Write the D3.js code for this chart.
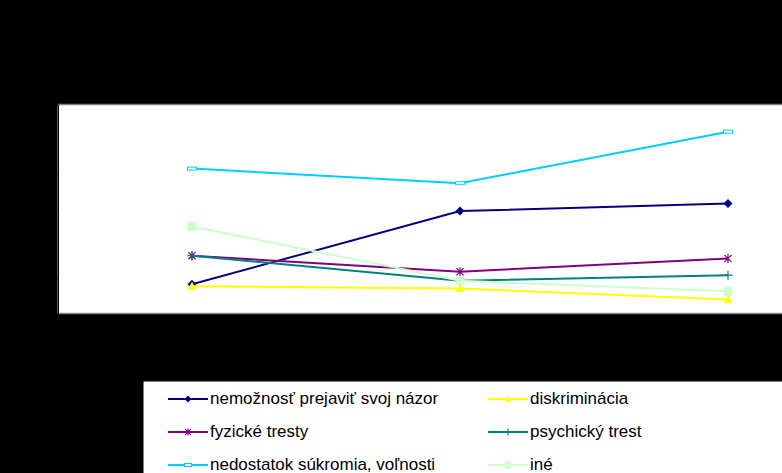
<!DOCTYPE html>
<meta charset="utf-8">
<style>
  body { margin: 0; background: #000; }
  svg { display: block; }
  .legend text { font-family: "Liberation Sans", Arial, sans-serif; font-size: 17px; fill: #000; }
  .axis text { font-family: "Liberation Sans", Arial, sans-serif; font-size: 12px; fill: #000; }
</style>
<body>
<div id="chart"></div>
<script src="https://d3js.org/d3.v7.min.js"></script>
<script>
  // data (y axis 0..30, step 5)
  const categories = ["1", "2", "3"];
  const seriesNames = [
    "nemožnosť prejaviť svoj názor",
    "diskriminácia",
    "fyzické tresty",
    "psychický trest",
    "nedostatok súkromia, voľnosti",
    "iné"
  ];
  const nemoznost = [4.2, 14.7, 15.8];
  const diskriminacia = [3.9, 3.6, 2.0];
  const fyzicke = [8.3, 6.0, 7.9];
  const psychicky = [8.3, 4.7, 5.5];
  const nedostatok = [20.8, 18.7, 26.1];
  const ine = [12.5, 4.7, 3.2];
  const yTicks = [0, 5, 10, 15, 20, 25, 30];

  const seriesValues = [nemoznost, diskriminacia, fyzicke, psychicky, nedostatok, ine];
  const colors = ["#000080", "#ffff00", "#800080", "#008080", "#00ccff", "#ccffcc"];
  const markers = ["diamond", "triangle", "asterisk", "plus", "dash", "square"];

  const width = 782, height = 473;
  const plot = {left: 58, top: 104.5, right: 862, bottom: 313.5};

  const svg = d3.select("#chart").append("svg")
    .attr("width", width)
    .attr("height", height);

  const x = d3.scalePoint()
    .domain(categories)
    .range([plot.left, plot.right])
    .padding(0.5);

  const y = d3.scaleLinear()
    .domain([0, 30])
    .range([plot.bottom, plot.top]);

  // plot area
  svg.append("rect")
    .attr("x", plot.left)
    .attr("y", plot.top)
    .attr("width", plot.right - plot.left)
    .attr("height", plot.bottom - plot.top)
    .attr("fill", "#fff")
    .attr("stroke", "#808080")
    .attr("stroke-width", 1.5);

  // y axis (labels are black on black, like the original)
  const yAxis = svg.append("g")
    .attr("class", "axis")
    .attr("transform", `translate(${plot.left},0)`)
    .call(d3.axisLeft(y).tickValues(yTicks).tickSize(4).tickPadding(4));
  yAxis.select(".domain").attr("stroke", "#000");
  yAxis.selectAll(".tick line").attr("stroke", "#000");

  const xAxis = svg.append("g")
    .attr("class", "axis")
    .attr("transform", `translate(0,${plot.bottom})`)
    .call(d3.axisBottom(x).tickSize(0).tickPadding(8));
  xAxis.select(".domain").remove();

  function drawMarker(g, type, color, cx, cy, s) {
    if (type === "diamond") {
      g.append("path")
        .attr("d", `M${cx},${cy - s}L${cx + s},${cy}L${cx},${cy + s}L${cx - s},${cy}Z`)
        .attr("fill", color);
    } else if (type === "triangle") {
      g.append("path")
        .attr("d", `M${cx},${cy - s}L${cx + s},${cy + s * 0.8}L${cx - s},${cy + s * 0.8}Z`)
        .attr("fill", color);
    } else if (type === "square") {
      g.append("rect")
        .attr("x", cx - s).attr("y", cy - s)
        .attr("width", 2 * s).attr("height", 2 * s)
        .attr("fill", color);
    } else if (type === "plus") {
      g.append("path")
        .attr("d", `M${cx - s},${cy}H${cx + s}M${cx},${cy - s}V${cy + s}`)
        .attr("stroke", color).attr("stroke-width", 1.2);
    } else if (type === "asterisk") {
      const d = s * 0.8;
      g.append("path")
        .attr("d", `M${cx - d},${cy - d}L${cx + d},${cy + d}M${cx - d},${cy + d}L${cx + d},${cy - d}M${cx},${cy - s}V${cy + s}`)
        .attr("stroke", color).attr("stroke-width", 1.2);
    } else if (type === "dash") {
      g.append("rect")
        .attr("x", cx - s).attr("y", cy - 1.5)
        .attr("width", 2 * s).attr("height", 3)
        .attr("fill", "#fff")
        .attr("stroke", color).attr("stroke-width", 1);
    }
  }

  const line = d3.line()
    .x((d, i) => x(categories[i]))
    .y(d => y(d));

  seriesValues.forEach((vals, k) => {
    const g = svg.append("g");
    g.append("path")
      .datum(vals)
      .attr("d", line)
      .attr("fill", "none")
      .attr("stroke", colors[k])
      .attr("stroke-width", 2);
    vals.forEach((v, i) => drawMarker(g, markers[k], colors[k], x(categories[i]), y(v), 4.5));
  });

  // legend
  const legend = svg.append("g").attr("class", "legend");
  legend.append("rect")
    .attr("x", 143).attr("y", 381)
    .attr("width", 700).attr("height", 120)
    .attr("fill", "#fff")
    .attr("stroke", "#000");

  seriesNames.forEach((name, k) => {
    const col = k % 2, row = Math.floor(k / 2);
    const lx = 168 + col * 320;
    const ly = 399 + row * 33;
    const g = legend.append("g");
    g.append("line")
      .attr("x1", lx).attr("x2", lx + 40)
      .attr("y1", ly).attr("y2", ly)
      .attr("stroke", colors[k]).attr("stroke-width", 2);
    drawMarker(g, markers[k], colors[k], lx + 20, ly, 3.5);
    g.append("text")
      .attr("x", lx + 42)
      .attr("y", ly + 5)
      .text(name);
  });
</script>
</body>
